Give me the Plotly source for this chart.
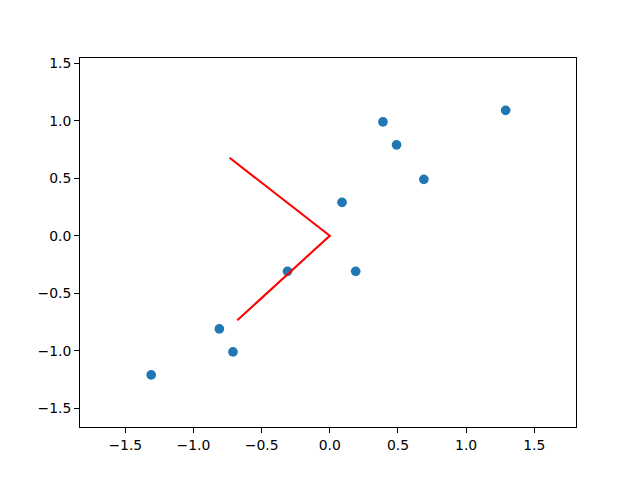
import plotly.graph_objects as go

# Centered data points
x_vals = [0.69, -1.31, 0.39, 0.09, 1.29, 0.49, 0.19, -0.81, -0.31, -0.71]
y_vals = [0.49, -1.21, 0.99, 0.29, 1.09, 0.79, -0.31, -0.81, -0.31, -1.01]

# Eigenvector polyline: end of vector 1, origin, end of vector 2
vec_x = [-0.735, 0.0, -0.678]
vec_y = [0.678, 0.0, -0.735]

x_range = [-1.832, 1.806]
y_range = [-1.663, 1.545]
tick_vals = [-1.5, -1.0, -0.5, 0.0, 0.5, 1.0, 1.5]

fig = go.Figure()
fig.add_trace(go.Scatter(
    x=x_vals, y=y_vals, mode="markers",
    marker=dict(color="#1f77b4", size=9.7, line=dict(width=0)),
    showlegend=False, hoverinfo="skip"))
fig.add_trace(go.Scatter(
    x=vec_x, y=vec_y, mode="lines",
    line=dict(color="red", width=2.1),
    showlegend=False, hoverinfo="skip"))

axis_common = dict(
    showgrid=False, zeroline=False, automargin=False,
    showline=True, linecolor="black", linewidth=1.1, mirror=True,
    ticks="outside", ticklen=4.9, tickwidth=1.1, tickcolor="black",
    tickvals=tick_vals, tickformat=".1f",
    tickfont=dict(family="DejaVu Sans", size=13.9, color="black"),
)

fig.update_layout(
    width=640, height=480,
    margin=dict(l=80, r=64, t=58, b=53, pad=0),
    paper_bgcolor="white", plot_bgcolor="white",
    xaxis=dict(range=x_range, **axis_common),
    yaxis=dict(range=y_range, **axis_common),
)

fig.write_html(
    "out.html",
    config={"displayModeBar": False},
    post_script="document.body.style.margin='0';document.body.style.padding='0';",
)
